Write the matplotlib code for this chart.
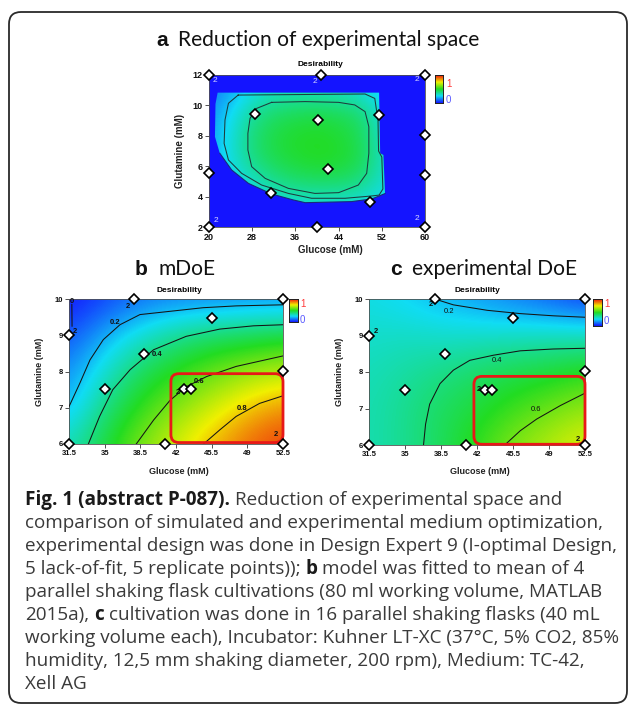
import numpy as np
import matplotlib
matplotlib.use('Agg')
import matplotlib.pyplot as plt
from matplotlib.colors import LinearSegmentedColormap
from matplotlib.patches import FancyBboxPatch, Polygon
from matplotlib.transforms import IdentityTransform

W, H = 631, 706

# ------------------------------------------------------------------ data
cmap_colors = ['#1414ff', '#10dcf4', '#22dc22', '#f0f000', '#f01010']

# panel a : reduction of experimental space
a_grid_x = [20, 24, 28, 32, 36, 40, 44, 48, 52, 56]
a_grid_y = [3.5, 5, 6.5, 8, 9.5, 11]
a_grid_z = [
    [0.20, 0.22, 0.25, 0.27, 0.28, 0.28, 0.28, 0.27, 0.25, 0.22],
    [0.20, 0.24, 0.30, 0.37, 0.41, 0.42, 0.42, 0.39, 0.30, 0.24],
    [0.18, 0.28, 0.39, 0.45, 0.48, 0.50, 0.49, 0.45, 0.32, 0.25],
    [0.16, 0.28, 0.40, 0.46, 0.49, 0.50, 0.48, 0.44, 0.30, 0.24],
    [0.15, 0.25, 0.36, 0.42, 0.44, 0.45, 0.44, 0.41, 0.28, 0.22],
    [0.12, 0.18, 0.26, 0.30, 0.31, 0.31, 0.30, 0.28, 0.22, 0.18],
]
a_region_x = [21.6, 51.5, 51.7, 52.3, 52.6, 50.2, 46.4, 37.8, 35.6, 31.6, 27.3, 24.2, 22.0, 21.1, 21.2]
a_region_y = [10.84, 10.84, 6.85, 6.74, 4.2, 3.85, 3.67, 3.6, 3.78, 4.17, 4.87, 5.75, 6.85, 7.94, 10.1]
a_outer_x = [25.4, 48.9, 50.7, 51.3, 51.4, 52.0, 52.2, 51.5, 50.1, 45.2, 39.0, 34.7, 29.75, 26.05, 23.6, 22.8, 22.96, 23.6, 25.4]
a_outer_y = [10.68, 10.75, 10.46, 9.0, 7.0, 6.6, 4.5, 4.1, 4.04, 3.89, 3.89, 4.21, 4.76, 5.53, 6.41, 7.5, 9.04, 10.14, 10.68]
a_inner_x = [31.6, 37.8, 44.0, 47.0, 48.9, 49.6, 49.6, 49.2, 47.65, 44.0, 39.6, 34.7, 30.4, 27.9, 27.2, 27.2, 27.6, 28.8, 31.6]
a_inner_y = [10.2, 10.25, 10.2, 10.03, 9.59, 8.6, 6.85, 5.53, 4.76, 4.26, 4.21, 4.54, 5.2, 5.97, 7.07, 8.16, 9.15, 9.8, 10.2]
a_pts_x = [20, 40.7, 60, 28.5, 40.1, 51.5, 60, 20, 42.1, 60, 31.5, 49.8, 20, 40, 60]
a_pts_y = [12, 12, 12, 9.41, 9.04, 9.35, 8.05, 5.57, 5.84, 5.42, 4.21, 3.64, 2, 2, 2]
a_rep_x = [21.1, 39.6, 58.5, 21.3, 58.5]
a_rep_y = [11.67, 11.56, 11.7, 2.42, 2.53]
a_xticks = [20, 28, 36, 44, 52, 60]
a_yticks = [2, 4, 6, 8, 10, 12]

# panels b and c share the design
bc_grid_x = [31.5, 35, 38.5, 42, 45.5, 49, 52.5]
bc_grid_y = [6, 7, 8, 9, 10]
bc_xticks = [31.5, 35, 38.5, 42, 45.5, 49, 52.5]
bc_xticklabels = ['31.5', '35', '38.5', '42', '45.5', '49', '52.5']
bc_yticks = [6, 7, 8, 9, 10]
bc_pts_x = [31.5, 31.5, 37.9, 52.5, 45.5, 38.9, 35.0, 42.8, 43.5, 52.5, 40.9, 52.5]
bc_pts_y = [6.0, 9.0, 10.0, 10.0, 9.47, 8.48, 7.51, 7.51, 7.51, 8.02, 6.0, 6.0]

# panel b : mDoE (model)
b_grid_z = [
    [0.32, 0.47, 0.61, 0.72, 0.82, 0.90, 0.95],
    [0.20, 0.39, 0.52, 0.62, 0.71, 0.80, 0.86],
    [0.15, 0.29, 0.43, 0.51, 0.58, 0.64, 0.68],
    [0.08, 0.19, 0.29, 0.37, 0.42, 0.44, 0.47],
    [0.00, 0.06, 0.11, 0.13, 0.13, 0.14, 0.14],
]
b_c02_x = [31.5, 32.6, 33.56, 34.87, 36.5, 38.46, 41.4, 44.67, 47.9, 52.5]
b_c02_y = [7.03, 7.7, 8.32, 8.88, 9.29, 9.57, 9.66, 9.76, 9.81, 9.84]
b_c04_x = [33.4, 34.5, 35.8, 37.5, 39.8, 43.0, 46.3, 49.6, 52.5]
b_c04_y = [6.0, 6.76, 7.5, 8.05, 8.6, 8.97, 9.17, 9.26, 9.29]
b_c06_x = [38.1, 39.8, 41.4, 43.0, 45.0, 47.9, 52.5]
b_c06_y = [6.0, 6.66, 7.2, 7.58, 7.86, 8.14, 8.43]
b_c08_x = [44.7, 46.3, 47.9, 50.2, 52.5]
b_c08_y = [6.0, 6.39, 6.76, 7.12, 7.33]
b_c00_x = [31.78, 31.8]
b_c00_y = [9.85, 9.25]
b_lab_text = ['0', '0.2', '0.4', '0.6', '0.8']
b_lab_x = [31.8, 36.0, 40.1, 44.3, 48.5]
b_lab_y = [9.92, 9.35, 8.48, 7.72, 6.97]
b_rep_x = [37.3, 32.1, 42.2, 51.85]
b_rep_y = [9.8, 9.1, 7.42, 6.25]
b_box = [41.5, 52.5, 6.04, 7.94]

# panel c : experimental DoE
c_grid_z = [
    [0.33, 0.37, 0.43, 0.52, 0.62, 0.68, 0.74],
    [0.33, 0.37, 0.43, 0.47, 0.53, 0.59, 0.64],
    [0.32, 0.35, 0.38, 0.42, 0.45, 0.47, 0.51],
    [0.30, 0.31, 0.30, 0.30, 0.31, 0.32, 0.32],
    [0.27, 0.24, 0.20, 0.17, 0.13, 0.09, 0.04],
]
c_c02_x = [37.9, 39.7, 43.0, 46.2, 49.4, 52.5]
c_c02_y = [10.0, 9.84, 9.69, 9.6, 9.54, 9.5]
c_c04_x = [36.8, 37.0, 37.4, 38.4, 39.7, 41.3, 43.6, 46.2, 49.4, 52.5]
c_c04_y = [6.0, 6.57, 7.12, 7.68, 8.05, 8.32, 8.46, 8.58, 8.63, 8.65]
c_c06_x = [44.7, 46.2, 47.8, 50.1, 52.5]
c_c06_y = [6.0, 6.39, 6.71, 7.08, 7.42]
c_lab_text = ['0.2', '0.4', '0.6']
c_lab_x = [39.3, 43.9, 47.7]
c_lab_y = [9.66, 8.32, 6.96]
c_rep_x = [37.5, 32.2, 42.2, 51.8]
c_rep_y = [9.84, 9.1, 7.51, 6.16]
c_box = [41.7, 52.5, 6.02, 7.88]

caption_lines = [
    [("Fig. 1 (abstract P-087).", True), (" Reduction of experimental space and", False)],
    [("comparison of simulated and experimental medium optimization,", False)],
    [("experimental design was done in Design Expert 9 (I-optimal Design,", False)],
    [("5 lack-of-fit, 5 replicate points)); ", False), ("b", True), (" model was fitted to mean of 4", False)],
    [("parallel shaking flask cultivations (80 ml working volume, MATLAB", False)],
    [("2015a), ", False), ("c", True), (" cultivation was done in 16 parallel shaking flasks (40 mL", False)],
    [("working volume each), Incubator: Kuhner LT-XC (37°C, 5% CO2, 85%", False)],
    [("humidity, 12,5 mm shaking diameter, 200 rpm), Medium: TC-42,", False)],
    [("Xell AG", False)],
]

# ------------------------------------------------------------------ setup
cmap = LinearSegmentedColormap.from_list('de', cmap_colors)
fig = plt.figure(figsize=(W / 100, H / 100), dpi=100)
fig.patch.set_facecolor('white')
renderer = fig.canvas.get_renderer()

CAP_FONT = ['Open Sans', 'DejaVu Sans']
TITLE_FONT = ['Lato', 'DejaVu Sans']
LETTER_FONT = ['Liberation Sans', 'DejaVu Sans']
PLOT_FONT = ['Liberation Sans', 'DejaVu Sans']


def rect(l, t, r, b):
    return [l / W, 1 - b / H, (r - l) / W, (b - t) / H]


def twidth(s, size, weight='normal', family=CAP_FONT):
    t = fig.text(0, 0, s, fontsize=size, fontweight=weight, family=family)
    w = t.get_window_extent(renderer).width
    t.remove()
    return w


def fit_size(s, target, weight='normal', family=CAP_FONT):
    return 10 * target / twidth(s, 10, weight, family)


def rich(x, ybase, pieces, size, family, color='#231f20', bold_family=None, bold_color=None):
    cur = x
    for s, bold in pieces:
        weight = 'bold' if bold else 'normal'
        fam = (bold_family if (bold and bold_family) else family)
        col = (bold_color if (bold and bold_color) else color)
        sw = twidth('a a', size, weight, fam) - twidth('aa', size, weight, fam)
        lead = len(s) - len(s.lstrip(' '))
        trail = len(s) - len(s.rstrip(' '))
        cur += lead * sw
        core = s.strip(' ')
        if core:
            t = fig.text(cur / W, 1 - ybase / H, core, fontsize=size, fontweight=weight,
                         family=fam, color=col, ha='left', va='baseline')
            cur += t.get_window_extent(renderer).width
        cur += trail * sw
    return cur


def ftext(x, y, s, **kw):
    kw.setdefault('family', PLOT_FONT)
    return fig.text(x / W, 1 - y / H, s, **kw)


def grid_image(ax, gx, gy, gz):
    gx = np.asarray(gx, float)
    gy = np.asarray(gy, float)
    dx = gx[1] - gx[0]
    dy = gy[1] - gy[0]
    ext = [gx[0] - dx / 2, gx[-1] + dx / 2, gy[0] - dy / 2, gy[-1] + dy / 2]
    return ax.imshow(np.asarray(gz), extent=ext, origin='lower', cmap=cmap, vmin=0, vmax=1,
                     interpolation='bicubic', aspect='auto', zorder=1)


def style_axes(ax, xticks, xlabels, yticks, size):
    ax.set_xticks(xticks)
    ax.set_xticklabels(xlabels)
    ax.set_yticks(yticks)
    ax.set_yticklabels([str(v) for v in yticks])
    ax.tick_params(direction='out', length=3, width=0.6, color='#333333', pad=1.5,
                   labelsize=size)
    for lab in ax.get_xticklabels() + ax.get_yticklabels():
        lab.set_fontweight('bold')
        lab.set_family(PLOT_FONT)
        lab.set_color('#111111')
    for sp in ax.spines.values():
        sp.set_color('#505050')
        sp.set_linewidth(0.6)


def colorbar(rectpx, one_xy, zero_xy):
    cax = fig.add_axes(rect(*rectpx))
    cax.imshow(np.linspace(0, 1, 128).reshape(-1, 1), cmap=cmap, origin='lower', aspect='auto')
    cax.set_xticks([])
    cax.set_yticks([])
    for sp in cax.spines.values():
        sp.set_color('#202020')
        sp.set_linewidth(0.7)
    ftext(*one_xy, '1', fontsize=7, color='#ff3a3a', ha='left', va='center')
    ftext(*zero_xy, '0', fontsize=7, color='#5a5aff', ha='left', va='center')


def markers(ax, xs, ys):
    ax.plot(xs, ys, 'D', ms=4.8, mfc='white', mec='black', mew=1.2, ls='none',
            clip_on=False, zorder=10)


def round_box(ax, box, color):
    x0, x1, y0, y1 = box
    (px0, py0), (px1, py1) = ax.transData.transform([(x0, y0), (x1, y1)])
    p = FancyBboxPatch((px0, py0), px1 - px0, py1 - py0,
                       boxstyle='round,pad=0,rounding_size=8', transform=IdentityTransform(),
                       fill=False, edgecolor=color, linewidth=2.0, zorder=6, clip_on=False)
    ax.add_patch(p)

# ------------------------------------------------------------------ outer frame
frame = FancyBboxPatch((9, 3), 618, 691, boxstyle='round,pad=0,rounding_size=12',
                       transform=IdentityTransform(), fill=False, edgecolor='#2a2a2a',
                       linewidth=1.3)
fig.add_artist(frame)

# ------------------------------------------------------------------ titles
tsize = fit_size('Reduction of experimental space', 303, family=TITLE_FONT)
rich(156, 46.5, [("a", True), ("  Reduction of experimental space", False)], tsize,
     TITLE_FONT, color='#111111', bold_family=LETTER_FONT)
rich(135, 275, [("b", True), ("  mDoE", False)], tsize, TITLE_FONT, color='#111111',
     bold_family=LETTER_FONT)
rich(390, 275, [("c", True), ("  experimental DoE", False)], tsize, TITLE_FONT,
     color='#111111', bold_family=LETTER_FONT)

# ------------------------------------------------------------------ panel a
axa = fig.add_axes(rect(209, 75, 425, 227))
axa.set_facecolor(cmap(0.0))
im = grid_image(axa, a_grid_x, a_grid_y, a_grid_z)
axa.set_xlim(20, 60)
axa.set_ylim(2, 12)
region = Polygon(np.column_stack([a_region_x, a_region_y]), closed=True,
                 transform=axa.transData)
im.set_clip_path(region)
axa.plot(a_region_x[4:13], a_region_y[4:13], color='#1a2a7a', lw=0.8, zorder=2)
axa.plot(a_outer_x, a_outer_y, color='#1e3c3c', lw=0.75, zorder=3)
axa.plot(a_inner_x, a_inner_y, color='#1e3c3c', lw=0.75, zorder=3)
markers(axa, a_pts_x, a_pts_y)
for x, y in zip(a_rep_x, a_rep_y):
    axa.text(x, y, '2', fontsize=6, color='#d8d8ff', family=PLOT_FONT, ha='center',
             va='center', zorder=4)
style_axes(axa, a_xticks, [str(v) for v in a_xticks], a_yticks, 6.5)
ftext(320, 64, 'Desirability', fontsize=6, fontweight='bold', ha='center', va='center')
ftext(330, 250, 'Glucose (mM)', fontsize=7, fontweight='bold', ha='center', va='center',
      color='#222222')
ftext(180, 151, 'Glutamine (mM)', fontsize=7, fontweight='bold', ha='center', va='center',
      rotation=90, color='#222222')
colorbar((435, 75, 443, 103), (446, 84), (446, 100))

# ------------------------------------------------------------------ panels b, c
def panel_bc(rectpx, gz, lines, labels, reps, box, lab_bold, title_x, xl_x, yl_x, cb):
    ax = fig.add_axes(rect(*rectpx))
    grid_image(ax, bc_grid_x, bc_grid_y, gz)
    ax.set_xlim(31.5, 52.5)
    ax.set_ylim(6, 10)
    for xs, ys in lines:
        ax.plot(xs, ys, color='#141414', lw=0.75, zorder=3)
    for s, x, y in zip(*labels):
        ax.text(x, y, s, fontsize=5.5, fontweight='bold' if lab_bold else 'normal',
                family=PLOT_FONT, color='#111111', ha='center', va='center', zorder=4)
    for x, y in zip(*reps):
        ax.text(x, y, '2', fontsize=5.5, fontweight='bold', family=PLOT_FONT,
                color='#111111', ha='center', va='center', zorder=4)
    round_box(ax, box, '#e81818')
    markers(ax, bc_pts_x, bc_pts_y)
    style_axes(ax, bc_xticks, bc_xticklabels, bc_yticks, 5.5)
    ftext(title_x, 290, 'Desirability', fontsize=6, fontweight='bold', ha='center',
          va='center')
    ftext(xl_x, 471, 'Glucose (mM)', fontsize=6.5, fontweight='bold', ha='center',
          va='center', color='#222222')
    ftext(yl_x, 372, 'Glutamine (mM)', fontsize=6.5, fontweight='bold', ha='center',
          va='center', rotation=90, color='#222222')
    colorbar(*cb)
    return ax


panel_bc((69, 299, 283, 444), b_grid_z,
         [(b_c00_x, b_c00_y), (b_c02_x, b_c02_y), (b_c04_x, b_c04_y), (b_c06_x, b_c06_y),
          (b_c08_x, b_c08_y)],
         (b_lab_text, b_lab_x, b_lab_y), (b_rep_x, b_rep_y), b_box, True,
         179, 179, 40, ((289, 299, 298, 322), (300, 304), (300, 320)))

panel_bc((369, 299, 585, 445), c_grid_z,
         [(c_c02_x, c_c02_y), (c_c04_x, c_c04_y), (c_c06_x, c_c06_y)],
         (c_lab_text, c_lab_x, c_lab_y), (c_rep_x, c_rep_y), c_box, False,
         477, 480, 339, ((593, 299, 602, 326), (604, 304), (604, 321)))

# ------------------------------------------------------------------ caption
csize = fit_size(caption_lines[2][0][0], 590)
for i, line in enumerate(caption_lines):
    yc = 499 + i * 23.0
    rich(25, yc + 6, line, csize, CAP_FONT, color='#3a3a3a', bold_color='#1a1a1a')

fig.savefig('out.png', dpi=100, facecolor='white')
